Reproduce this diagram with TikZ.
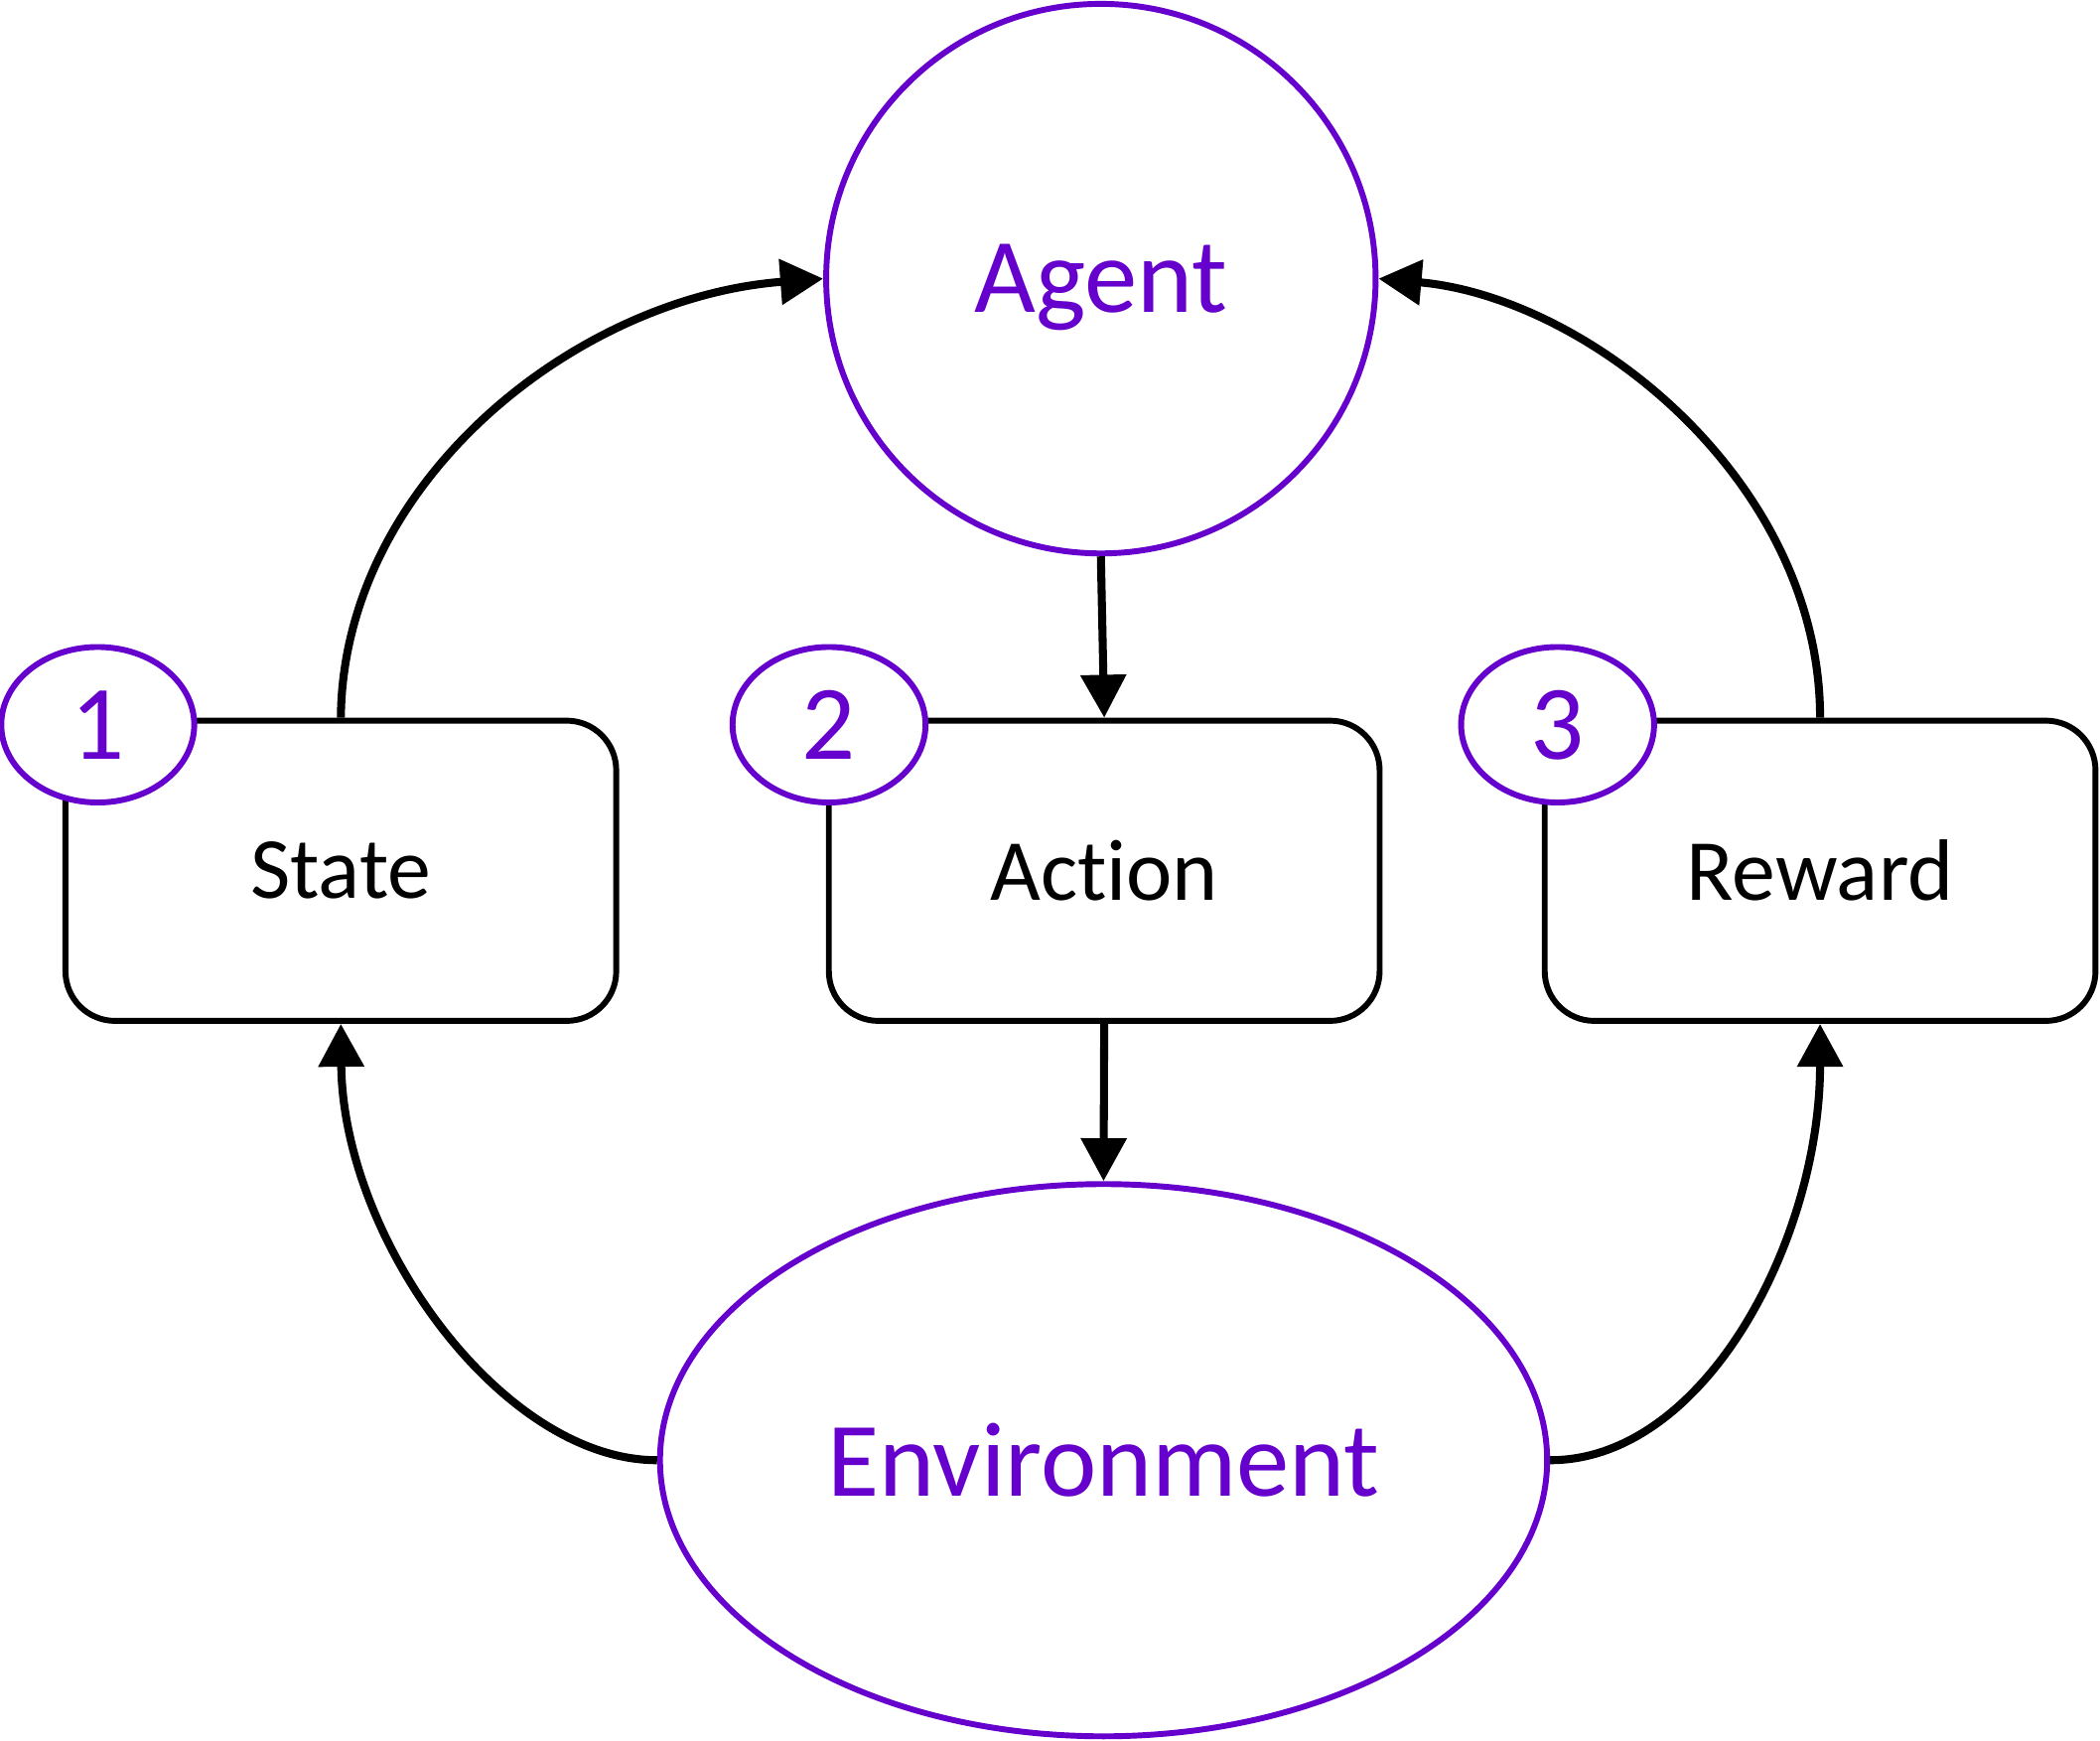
\documentclass[tikz,border=0pt]{standalone}
\usepackage{fontspec}
\setmainfont{Carlito}[Ligatures=NoCommon]
\usetikzlibrary{shapes.geometric,arrows.meta}
\definecolor{violet}{HTML}{6600CC}

\begin{document}
\begin{tikzpicture}[x=0.01cm, y=-0.01cm,
                    box/.style={draw, rectangle, rounded corners=0.37cm,
                                line width=1.25pt,
                                minimum width=4.11cm, minimum height=2.24cm,
                                font=\fontsize{18.5}{22}\selectfont},
                    num/.style={draw=violet, ellipse, fill=white,
                                line width=1.25pt, text=violet,
                                minimum width=1.44cm, minimum height=1.16cm,
                                font=\fontsize{22.5}{26}\selectfont},
                    big/.style={draw=violet, line width=1.25pt, text=violet,
                                text depth=0pt,
                                font=\fontsize{22.5}{26}\selectfont},
                    arr/.style={line width=1.7pt,
                                -{Triangle[width=0.33cm, length=0.32cm]}}]

                      \useasboundingbox (0,0) rectangle (1568,1299);

                      \node[big, circle, minimum size=4.1cm] (agent) at (822, 208) {Agent};
                      \node[big, ellipse, minimum width=6.62cm,
                            minimum height=4.12cm] (env) at (824, 1090) {Environment};

                      \node[box] (state) at (254.5, 650) {State};
                      \node[box] (action) at (824.5, 650) {Action};
                      \node[box] (reward) at (1359, 650) {Reward};

                      \node[num] (one) at (73, 541) {1};
                      \node[num] (two) at (619, 541) {2};
                      \node[num] (three) at (1163, 541) {3};

                      \draw[arr] (state.north) .. controls (256, 360) and (430, 222) .. (agent.west);
                      \draw[arr] (reward.north) .. controls (1359, 360) and (1187, 222) .. (agent.east);
                      \draw[arr] (env.west) .. controls (375, 1090) and (256, 925) .. (state.south);
                      \draw[arr] (env.east) .. controls (1273, 1090) and (1359, 925) .. (reward.south);

                      \foreach \i/\j in {agent/action, action/env} {
                              \draw[arr] (\i.south) -- (\j.north);
                          }
                  \end{tikzpicture}
\end{document}
